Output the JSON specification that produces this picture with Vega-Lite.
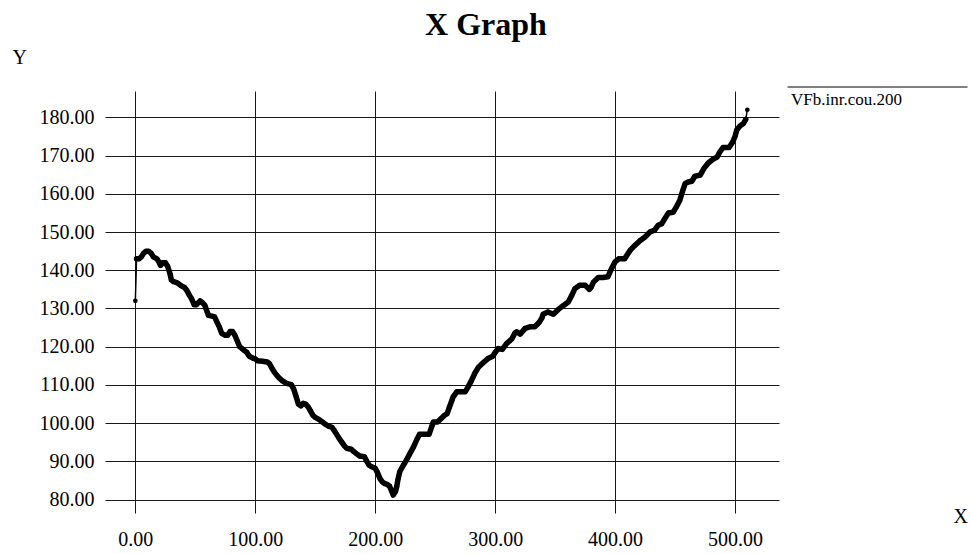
{
  "$schema": "https://vega.github.io/schema/vega-lite/v6.json",
  "width": 674,
  "height": 422,
  "autosize": {"type": "none"},
  "padding": {"left": 105, "top": 91, "right": 192, "bottom": 41},
  "background": "white",
  "title": {"text": "X Graph", "font": "Liberation Serif", "fontSize": 32, "fontWeight": "bold", "color": "black", "anchor": "middle", "dx": 44, "dy": 32, "baseline": "alphabetic", "offset": 12},
  "config": {"view": {"stroke": null}},
  "data": {"values": [
    {"x":0,"y":132},{"x":1,"y":143},{"x":3,"y":143},{"x":5,"y":143.5},{"x":7,"y":144.5},{"x":9,"y":145},{"x":11,"y":145},{"x":13,"y":144.5},{"x":15,"y":143.5},{"x":18,"y":143},{"x":20,"y":142},{"x":21,"y":141.3},{"x":23,"y":142},{"x":25,"y":142},{"x":27,"y":141},{"x":29,"y":139},{"x":30,"y":137.5},{"x":32,"y":137},{"x":35,"y":136.7},{"x":38,"y":136},{"x":41,"y":135.5},{"x":43,"y":134.7},{"x":45,"y":133.5},{"x":47,"y":132.5},{"x":49,"y":131},{"x":51,"y":131},{"x":54,"y":132},{"x":56,"y":131.5},{"x":58,"y":130.8},{"x":60,"y":129},{"x":61,"y":128.2},{"x":64,"y":128},{"x":66,"y":127.8},{"x":68,"y":126.5},{"x":70,"y":125.2},{"x":72,"y":123.5},{"x":75,"y":123},{"x":77,"y":123},{"x":79,"y":124},{"x":81,"y":124},{"x":83,"y":123},{"x":85,"y":121.5},{"x":87,"y":120},{"x":89,"y":119.5},{"x":91,"y":119},{"x":93,"y":118.5},{"x":95,"y":117.5},{"x":98,"y":117},{"x":100,"y":116.8},{"x":102,"y":116.3},{"x":106,"y":116.2},{"x":110,"y":116},{"x":112,"y":115.5},{"x":114,"y":114.3},{"x":116,"y":113.3},{"x":118,"y":112.5},{"x":120,"y":111.8},{"x":122,"y":111.2},{"x":124,"y":110.8},{"x":126,"y":110.4},{"x":130,"y":110.1},{"x":132,"y":109},{"x":134,"y":107},{"x":136,"y":105},{"x":138,"y":104.5},{"x":140,"y":105.2},{"x":142,"y":105},{"x":144,"y":104.3},{"x":146,"y":103.2},{"x":148,"y":102.1},{"x":150,"y":101.5},{"x":153,"y":101},{"x":156,"y":100.3},{"x":158,"y":99.8},{"x":161,"y":99.2},{"x":164,"y":98.9},{"x":166,"y":98},{"x":168,"y":97},{"x":170,"y":96},{"x":172,"y":95.1},{"x":174,"y":94.2},{"x":176,"y":93.5},{"x":178,"y":93.3},{"x":180,"y":93.2},{"x":182,"y":92.6},{"x":184,"y":92.1},{"x":187,"y":91.4},{"x":191,"y":91.2},{"x":193,"y":90},{"x":195,"y":89},{"x":197,"y":88.6},{"x":200,"y":88.2},{"x":202,"y":87},{"x":204,"y":85.5},{"x":206,"y":84.6},{"x":208,"y":84.2},{"x":210,"y":84},{"x":212,"y":83.5},{"x":214,"y":82},{"x":215,"y":81.2},{"x":217,"y":82.2},{"x":218,"y":83.5},{"x":219,"y":85.3},{"x":220.5,"y":87.3},{"x":222,"y":88.2},{"x":223.5,"y":89},{"x":226,"y":90.3},{"x":229,"y":92.1},{"x":232,"y":93.8},{"x":234.5,"y":95.6},{"x":237,"y":97.1},{"x":241,"y":97.1},{"x":245,"y":97.1},{"x":247,"y":99},{"x":248.5,"y":100.3},{"x":252,"y":100.3},{"x":255,"y":101.2},{"x":257.5,"y":102},{"x":260,"y":102.5},{"x":262,"y":104.3},{"x":264,"y":106},{"x":265,"y":106.9},{"x":268,"y":108.2},{"x":271,"y":108.2},{"x":275,"y":108.2},{"x":277.5,"y":109.5},{"x":280,"y":111},{"x":283,"y":113},{"x":286,"y":114.6},{"x":290,"y":115.8},{"x":294,"y":116.9},{"x":298,"y":117.5},{"x":300,"y":118.5},{"x":302.5,"y":119.5},{"x":306,"y":119.3},{"x":309.5,"y":120.8},{"x":312,"y":121.5},{"x":314,"y":122.1},{"x":316.5,"y":123.6},{"x":318,"y":123.9},{"x":321,"y":123.3},{"x":325,"y":124.8},{"x":329,"y":125.2},{"x":333,"y":125.2},{"x":335,"y":125.8},{"x":337,"y":126.5},{"x":339,"y":127.5},{"x":340,"y":128.5},{"x":344,"y":129.1},{"x":348.5,"y":128.5},{"x":352.5,"y":129.7},{"x":357,"y":130.8},{"x":361,"y":131.7},{"x":364,"y":133.5},{"x":366.5,"y":135.2},{"x":370.5,"y":136.1},{"x":375,"y":136.1},{"x":378.5,"y":135},{"x":380,"y":135.5},{"x":382,"y":136.9},{"x":386,"y":138.1},{"x":390,"y":138.1},{"x":394,"y":138.3},{"x":397,"y":140.4},{"x":400,"y":142.2},{"x":403,"y":143},{"x":408,"y":143},{"x":410,"y":144},{"x":412.5,"y":145.2},{"x":416.5,"y":146.5},{"x":421,"y":147.8},{"x":425,"y":148.7},{"x":429,"y":150},{"x":433,"y":150.5},{"x":436,"y":151.8},{"x":439,"y":152.2},{"x":441.5,"y":153.5},{"x":444.5,"y":155},{"x":448.5,"y":155.2},{"x":451,"y":156.5},{"x":454,"y":158.3},{"x":456.5,"y":160.9},{"x":458.5,"y":162.7},{"x":461,"y":163.1},{"x":464,"y":163.3},{"x":466.5,"y":164.6},{"x":471,"y":164.9},{"x":474,"y":166.6},{"x":477.5,"y":168},{"x":481.5,"y":169},{"x":485,"y":169.6},{"x":487.5,"y":171},{"x":490,"y":172.1},{"x":495,"y":172.1},{"x":498,"y":173.5},{"x":500,"y":175},{"x":501.5,"y":176.7},{"x":504,"y":177.7},{"x":507,"y":178.4},{"x":509,"y":179.5},{"x":510.3,"y":182}
  ]},
  "encoding": {
    "x": {"field": "x", "type": "quantitative",
      "scale": {"domain": [-25.3, 536.7], "nice": false, "zero": false},
      "axis": {"values": [0, 100, 200, 300, 400, 500], "format": ".2f", "domain": false, "ticks": false, "grid": true, "gridColor": "black", "gridWidth": 1, "gridOpacity": 0.9,
        "labelFont": "Liberation Serif", "labelFontSize": 20, "labelColor": "black", "labelPadding": 16, "labelOverlap": false, "labelFlush": false,
        "title": "X", "titleFont": "Liberation Serif", "titleFontSize": 20, "titleFontWeight": "normal", "titleColor": "black", "titleAngle": 0, "titleX": 848, "titleY": 3, "titleAlign": "left", "titleBaseline": "middle"}},
    "y": {"field": "y", "type": "quantitative",
      "scale": {"domain": [76.5, 186.9], "nice": false, "zero": false},
      "axis": {"values": [80, 90, 100, 110, 120, 130, 140, 150, 160, 170, 180], "format": ".2f", "domain": false, "ticks": false, "grid": true, "gridColor": "black", "gridWidth": 1, "gridOpacity": 0.9,
        "labelFont": "Liberation Serif", "labelFontSize": 20, "labelColor": "black", "labelPadding": 11, "labelOverlap": false, "labelFlush": false,
        "title": "Y", "titleFont": "Liberation Serif", "titleFontSize": 20, "titleFontWeight": "normal", "titleColor": "black", "titleAngle": 0, "titleX": -93, "titleY": -34, "titleAlign": "left", "titleBaseline": "middle"}}
  },
  "layer": [
    {"mark": {"type": "line", "strokeWidth": 1.5},
     "encoding": {"color": {"datum": "VFb.inr.cou.200", "type": "nominal", "scale": {"range": ["black"]},
       "legend": {"orient": "none", "legendX": 669, "legendY": 0, "title": null, "symbolType": "M1,-2.5H37", "symbolSize": 100, "symbolStrokeWidth": 1, "symbolFillColor": "transparent", "labelFont": "Liberation Serif", "labelFontSize": 17, "labelColor": "black", "labelOffset": 0, "padding": 0}}}},
    {"transform": [{"filter": "datum.x > 0.5 && datum.x < 510"}],
     "mark": {"type": "line", "strokeWidth": 5.5, "strokeCap": "round", "strokeJoin": "round", "color": "black"}},
    {"mark": {"type": "circle", "size": 22, "color": "black", "opacity": 1}}
  ]
}
